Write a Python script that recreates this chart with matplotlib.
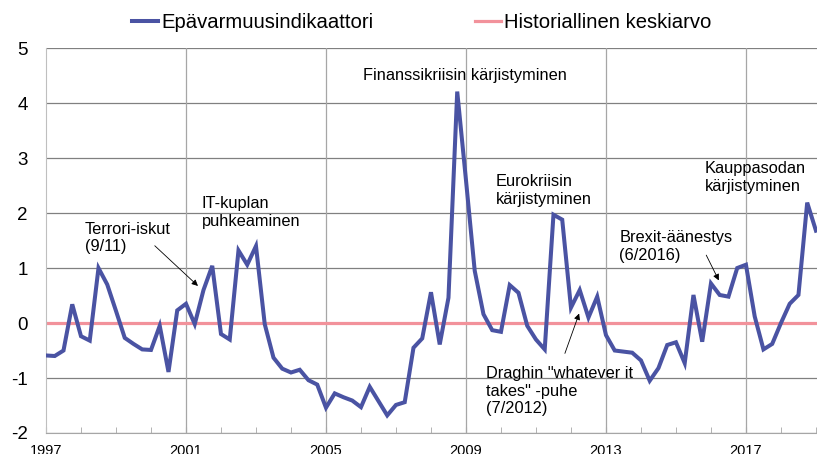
import matplotlib.pyplot as plt
import numpy as np

plt.rcParams['font.family'] = ['Liberation Sans', 'DejaVu Sans']
plt.rcParams['axes.unicode_minus'] = False

# neljännesvuosittaiset arvot 1997Q1 - 2019Q1
start_year = 1997
indeksi = [-0.59, -0.60, -0.50, 0.34, -0.24, -0.32, 1.00, 0.70, 0.22, -0.27,
           -0.38, -0.48, -0.49, -0.05, -0.89, 0.23, 0.35, -0.02, 0.60, 1.04,
           -0.20, -0.30, 1.32, 1.06, 1.40, -0.02, -0.63, -0.83, -0.90, -0.85,
           -1.04, -1.12, -1.54, -1.28, -1.35, -1.41, -1.53, -1.16, -1.42, -1.68,
           -1.49, -1.44, -0.45, -0.28, 0.56, -0.39, 0.46, 4.21, 2.60, 0.95,
           0.16, -0.13, -0.16, 0.69, 0.55, -0.05, -0.30, -0.48, 1.97, 1.88,
           0.28, 0.60, 0.10, 0.48, -0.22, -0.50, -0.52, -0.54, -0.68, -1.05,
           -0.82, -0.40, -0.35, -0.73, 0.51, -0.34, 0.72, 0.51, 0.48, 1.00,
           1.06, 0.12, -0.48, -0.38, 0.00, 0.35, 0.51, 2.19, 1.68]
keskiarvo = 0.0
vuodet = [1997, 2001, 2005, 2009, 2013, 2017]

t = start_year + np.arange(len(indeksi)) * 0.25

blue = '#4a53a3'
pink = '#f2929b'

fig = plt.figure(figsize=(8.17, 4.54), dpi=100)
ax = fig.add_axes([0.0563, 0.0463, 0.9437, 0.8477])

for y in range(-2, 6):
    ax.axhline(y, color='#808080', lw=0.9, zorder=1)
for v in vuodet[1:]:
    ax.axvline(v, color='#a6a6a6', lw=0.9, zorder=1)

ax.plot(t, indeksi, color=blue, lw=2.9, label='Epävarmuusindikaattori', zorder=3,
        solid_joinstyle='miter')
ax.axhline(keskiarvo, color=pink, lw=2.3, label='Historiallinen keskiarvo', zorder=2)

ax.set_xlim(1997, 2019.03)
ax.set_ylim(-2, 5)
ax.set_yticks(range(-2, 6))
ax.set_xticks(vuodet)
ax.set_xticks(range(1997, 2020), minor=True)
ax.tick_params(axis='y', length=0, pad=13, labelsize=13.5)
ax.tick_params(axis='x', which='both', direction='in', length=4, color='#a6a6a6',
               labelsize=10.5, pad=8)
for s in ['top', 'right']:
    ax.spines[s].set_visible(False)
ax.spines['left'].set_color('#bfbfbf')
ax.spines['bottom'].set_color('#a6a6a6')

fs = 11.8
ls = 1.2
ax.text(2006.06, 4.51, 'Finanssikriisin kärjistyminen', fontsize=fs, ha='left', va='center')
ax.text(1998.11, 1.55, 'Terrori-iskut\n(9/11)', fontsize=fs, ha='left', va='center',
        linespacing=ls)
ax.text(2001.45, 2.01, 'IT-kuplan\npuhkeaminen', fontsize=fs, ha='left', va='center',
        linespacing=ls)
ax.text(2009.86, 2.41, 'Eurokriisin\nkärjistyminen', fontsize=fs, ha='left', va='center',
        linespacing=ls)
ax.text(2013.38, 1.39, 'Brexit-äänestys\n(6/2016)', fontsize=fs, ha='left', va='center',
        linespacing=ls)
ax.text(2015.83, 2.65, 'Kauppasodan\nkärjistyminen', fontsize=fs, ha='left', va='center',
        linespacing=ls)
ax.text(2009.57, -1.24, 'Draghin "whatever it\ntakes" -puhe\n(7/2012)', fontsize=fs,
        ha='left', va='center', linespacing=ls)

arrow = dict(arrowstyle='-|>', color='black', lw=0.6, mutation_scale=9)
ax.annotate('', xy=(2001.4, 0.64), xytext=(2000.05, 1.44), arrowprops=arrow)
ax.annotate('', xy=(2012.26, 0.22), xytext=(2011.8, -0.60), arrowprops=arrow)
ax.annotate('', xy=(2016.26, 0.73), xytext=(2015.83, 1.28), arrowprops=arrow)

fig.legend(loc='center', bbox_to_anchor=(0.516, 0.95), ncol=2, frameon=False,
           prop={'family': ['Liberation Sans Narrow', 'Liberation Sans'], 'size': 14.6},
           handlelength=1.3, handletextpad=0.15, columnspacing=5.0)

fig.savefig('out.png', dpi=100)
